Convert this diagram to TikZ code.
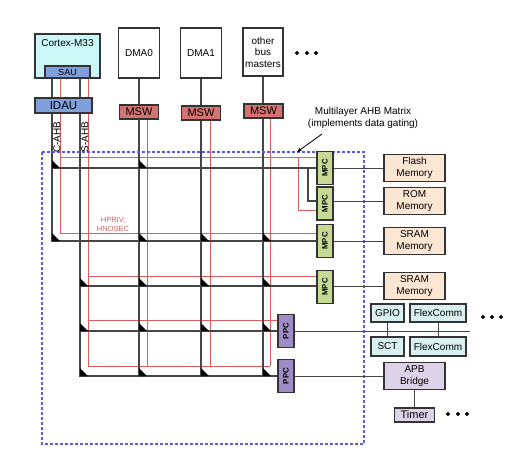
\documentclass[tikz,border=0pt]{standalone}
\usepackage{fontspec}
\setmainfont{Liberation Sans}
\usepackage{graphicx}
\usetikzlibrary{arrows.meta,backgrounds}

\definecolor{busgray}{HTML}{464646}
\definecolor{busred}{HTML}{E05C5C}
\definecolor{boxline}{HTML}{333333}
\definecolor{cpufill}{HTML}{CCF7F7}
\definecolor{saufill}{HTML}{809FDD}
\definecolor{mswfill}{HTML}{D67370}
\definecolor{mpcfill}{HTML}{C6DA96}
\definecolor{ppcfill}{HTML}{9F8CC6}
\definecolor{memfill}{HTML}{FBE6D3}
\definecolor{perifill}{HTML}{D9F0F0}
\definecolor{apbfill}{HTML}{DDD3E8}
\definecolor{dashblue}{HTML}{5A5AF0}

\begin{document}
\begin{tikzpicture}[x=1pt,y=-1pt,
    font=\fontsize{10}{11.5}\selectfont,
    box/.style={draw=boxline, line width=1.4pt, inner sep=0pt, align=center},
    master/.style={box, fill=white, minimum width=41pt, minimum height=50pt},
    msw/.style={box, fill=mswfill, minimum width=39pt, minimum height=14pt, font=\fontsize{11}{12}\selectfont},
    gate/.style={box, minimum width=16pt, minimum height=33pt, font=\fontsize{7.8}{8}\selectfont\bfseries},
    mem/.style={box, fill=memfill, minimum width=61pt, minimum height=27pt},
    peri/.style={box, fill=perifill, minimum height=18pt},
    bus/.style={busgray, line width=1.3pt},
    rbus/.style={busred, line width=0.9pt},
    link/.style={busgray, line width=1pt},
    frame/.style={dashblue, line width=1.1pt, dash pattern=on 3pt off 2pt},
    ]
    \useasboundingbox (0,0) rectangle (529,459);

    \node[box, fill=cpufill, minimum width=65pt, minimum height=44pt,
        label={[anchor=north,yshift=-3pt]north:Cortex-M33}] (cpu) at (67.5,56) {};
    \node[box, fill=saufill, minimum width=45pt, minimum height=12pt, font=\fontsize{9}{9}\selectfont] (sau) at (67.5,72) {SAU};
    \node[box, fill=saufill, minimum width=57pt, minimum height=15pt, font=\fontsize{11.5}{12}\selectfont] (idau) at (63.5,105.5) {IDAU};
    \node[master] (dma0) at (139,53) {DMA0};
    \node[master] (dma1) at (201,53) {DMA1};
    \node[master, minimum height=48pt, minimum width=40pt] (other) at (263,52) {other\\bus\\masters};
    \node[msw] (msw0) at (139,112) {MSW};
    \node[msw] (msw1) at (201,113) {MSW};
    \node[msw] (msw2) at (263.5,111) {MSW};

    \node[rotate=90] (clabel) at (57,137) {C-AHB};
    \node[rotate=90] (slabel) at (85,137) {S-AHB};

    \node[gate, fill=mpcfill] (mpc1) at (325,168) {\rotatebox{90}{MPC}};
    \node[gate, fill=mpcfill] (mpc2) at (325,203.5) {\rotatebox{90}{MPC}};
    \node[gate, fill=mpcfill] (mpc3) at (325,241) {\rotatebox{90}{MPC}};
    \node[gate, fill=mpcfill] (mpc4) at (325,287) {\rotatebox{90}{MPC}};
    \node[gate, fill=ppcfill] (ppc1) at (286,331) {\rotatebox{90}{PPC}};
    \node[gate, fill=ppcfill] (ppc2) at (286,376) {\rotatebox{90}{PPC}};

    \node[mem] (flash) at (414.5,168) {Flash\\Memory};
    \node[mem] (rom) at (414.5,201) {ROM\\Memory};
    \node[mem] (sram1) at (414.5,241) {SRAM\\Memory};
    \node[mem] (sram2) at (414.5,286) {SRAM\\Memory};
    \node[peri, minimum width=33pt] (gpio) at (387.5,313) {GPIO};
    \node[peri, minimum width=56pt] (fc1) at (438,313) {FlexComm};
    \node[peri, minimum width=33pt, minimum height=19pt] (sct) at (387.5,346.5) {SCT};
    \node[peri, minimum width=56pt, minimum height=19pt] (fc2) at (438,346.5) {FlexComm};
    \node[mem, fill=apbfill] (apb) at (414.5,376) {APB\\Bridge};
    \node[box, fill=apbfill, minimum width=40pt, minimum height=14pt, font=\fontsize{11}{12}\selectfont] (timer) at (414.5,415) {Timer};

    \node[align=center] (mlabel) at (363,118) {Multilayer AHB Matrix\\(implements data gating)};
    \node[align=center, text=busred, font=\fontsize{7.5}{9}\selectfont] (hpriv) at (113,224) {HPRIV,\\HNOSEC};

    \coordinate (cb) at (52,78);
    \coordinate (cr) at (60,78);
    \coordinate (sb) at (80,78);
    \coordinate (sr) at (88,78);
    \coordinate (d0r) at (147,119);
    \coordinate (d1r) at (210,119);
    \coordinate (omr) at (270,118);
    \coordinate (b1) at (0,168);
    \coordinate (b2) at (0,201);
    \coordinate (b4) at (0,286);
    \coordinate (b5) at (0,331);
    \coordinate (b6) at (0,376);
    \coordinate (r1) at (0,157);
    \coordinate (r2) at (0,210);
    \coordinate (r3) at (0,233);
    \coordinate (r4) at (0,276);
    \coordinate (r5) at (0,320);
    \coordinate (r6) at (0,366);
    \coordinate (pend) at (470,331);
    \coordinate (arrtail) at (322,134);
    \coordinate (arrtip) at (297,152);

    \begin{scope}[on background layer]
        \draw[rbus] (cr) |- (mpc3.west |- r3);
        \draw[rbus] (cr |- r1) -- (mpc1.west |- r1);
        \draw[rbus] (298,157) |- (mpc2.west |- r2);
        \draw[rbus] (sr) |- (omr |- r6);
        \draw[rbus] (sr |- r4) -- (mpc4.west |- r4);
        \draw[rbus] (sr |- r5) -- (ppc1.west |- r5);
        \foreach \c in {d0r,d1r,omr}
            \draw[rbus] (\c) -- (\c |- r6);

        \draw[bus] (cb) |- (mpc3);
        \draw[bus] (cb |- b1) -- (mpc1);
        \draw[bus] (308,168) |- (mpc2.west |- b2);
        \draw[bus] (sb) |- (ppc2);
        \draw[bus] (sb |- b4) -- (mpc4.west |- b4);
        \draw[bus] (sb |- b5) -- (ppc1);
        \foreach \n in {dma0,dma1,other}
            \draw[bus] (\n.south) -- (\n.south |- b6);

        \draw[frame] (42,152) rectangle (364,444);
    \end{scope}

    \foreach \x/\y in {52/168,139/168,52/241,139/241,201/241,263/241,
                       80/286,139/286,201/286,263/286,80/331,139/331,201/331,263/331,
                       80/376,139/376,201/376,263/376}
        \fill[black] (\x,\y) -- ++(0,-8) -- ++(8,8) -- cycle;

    \draw[link] (mpc1) -- (flash);
    \draw[link] (mpc2.east |- rom) -- (rom);
    \draw[link] (mpc3) -- (sram1);
    \draw[link] (mpc4.east |- sram2) -- (sram2);
    \draw[link] (ppc1) -- (pend);
    \draw[link] (ppc2) -- (apb);
    \draw[link] (gpio) -- (sct);
    \draw[link] (fc1) -- (fc2);
    \draw[link] (apb) -- (timer);

    \draw[-{Stealth[length=5pt]}, line width=0.8pt] (arrtail) -- (arrtip);

    \foreach \x in {297,307,316}
        \filldraw[black] (\x,53) circle (1.8pt);
    \foreach \x in {483,492,501}
        \filldraw[black] (\x,317) circle (1.8pt);
    \foreach \x in {448,458,467}
        \filldraw[black] (\x,414) circle (1.8pt);
\end{tikzpicture}
\end{document}
